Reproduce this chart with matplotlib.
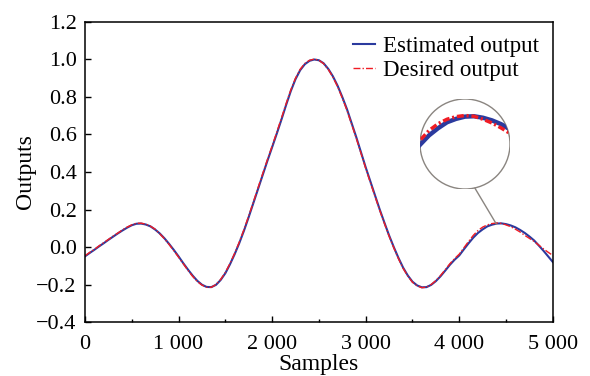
import matplotlib.pyplot as plt
from matplotlib.patches import Circle, ConnectionPatch
from matplotlib.ticker import FuncFormatter, MultipleLocator

plt.rcParams['font.family'] = ['Liberation Serif', 'DejaVu Serif']

samples = list(range(0, 5001, 50))

estimated = [-0.050, -0.032, -0.015, 0.003, 0.020, 0.038, 0.055, 0.072, 0.088, 0.103,
             0.116, 0.124, 0.125, 0.120, 0.110, 0.093, 0.072, 0.046, 0.016, -0.016,
             -0.050, -0.086, -0.120, -0.152, -0.180, -0.201, -0.213, -0.214, -0.202, -0.176,
             -0.140, -0.092, -0.038, 0.022, 0.088, 0.160, 0.235, 0.310, 0.385, 0.460,
             0.532, 0.605, 0.680, 0.758, 0.832, 0.895, 0.943, 0.975, 0.993, 1.000,
             0.996, 0.980, 0.950, 0.910, 0.860, 0.800, 0.735, 0.660, 0.585, 0.505,
             0.425, 0.350, 0.275, 0.200, 0.130, 0.062, 0.000, -0.058, -0.110, -0.152,
             -0.185, -0.205, -0.215, -0.214, -0.202, -0.182, -0.156, -0.126, -0.095, -0.068,
             -0.045, -0.012, 0.020, 0.050, 0.075, 0.094, 0.110, 0.119, 0.125, 0.126,
             0.122, 0.115, 0.105, 0.091, 0.075, 0.056, 0.035, 0.008, -0.020, -0.050,
             -0.080]

desired = [-0.047, -0.029, -0.013, 0.006, 0.023, 0.040, 0.058, 0.074, 0.091, 0.106,
           0.118, 0.127, 0.127, 0.122, 0.111, 0.095, 0.070, 0.044, 0.013, -0.020,
           -0.054, -0.089, -0.124, -0.156, -0.184, -0.203, -0.215, -0.215, -0.200, -0.173,
           -0.136, -0.088, -0.033, 0.027, 0.094, 0.166, 0.240, 0.316, 0.392, 0.466,
           0.538, 0.612, 0.688, 0.765, 0.838, 0.900, 0.948, 0.979, 0.996, 1.002,
           0.996, 0.978, 0.947, 0.906, 0.855, 0.795, 0.729, 0.654, 0.579, 0.500,
           0.420, 0.344, 0.270, 0.196, 0.126, 0.058, -0.004, -0.062, -0.114, -0.155,
           -0.188, -0.207, -0.217, -0.214, -0.200, -0.179, -0.152, -0.121, -0.089, -0.062,
           -0.038, -0.004, 0.030, 0.062, 0.088, 0.106, 0.118, 0.125, 0.128, 0.126,
           0.118, 0.108, 0.095, 0.080, 0.062, 0.046, 0.030, 0.010, -0.010, -0.028,
           -0.045]

fig = plt.figure(figsize=(5.9, 3.76), dpi=100)
fig.subplots_adjust(left=0.144, right=0.937, top=0.9415, bottom=0.1436)
ax = fig.add_subplot(111)

ax.plot(samples, estimated, color='#2b3a9e', lw=1.5, label='Estimated output')
ax.plot(samples, desired, color='#f01c24', lw=1.0, ls=(0, (5, 1.5, 1, 1.5)), label='Desired output')

ax.set_xlim(0, 5000)
ax.set_ylim(-0.4, 1.2)
ax.xaxis.set_major_locator(MultipleLocator(1000))
ax.xaxis.set_minor_locator(MultipleLocator(500))
ax.yaxis.set_major_locator(MultipleLocator(0.2))
ax.xaxis.set_major_formatter(FuncFormatter(lambda v, p: '0' if v == 0 else '{:,.0f}'.format(v).replace(',', ' ')))
ax.yaxis.set_major_formatter(FuncFormatter(lambda v, p: '{:.1f}'.format(v).replace('-', '\u2212')))
ax.tick_params(which='both', direction='in', labelsize=16, top=False, right=False)
ax.tick_params(which='major', length=4, width=1)
ax.tick_params(which='minor', length=2.5, width=1)
ax.tick_params(axis='x', pad=9)
ax.tick_params(axis='y', pad=6)
for s in ax.spines.values():
    s.set_linewidth(1.1)
ax.set_xlabel('Samples', fontsize=17, labelpad=0)
ax.set_ylabel('Outputs', fontsize=17, labelpad=0)

ax.legend(loc='upper right', bbox_to_anchor=(1.0, 1.0), frameon=False, fontsize=16.5,
          handlelength=0.95, handletextpad=0.35, labelspacing=0.12, borderaxespad=0.2)

# zoomed circle
ax_in = fig.add_axes([0.7119, 0.4973, 0.1525, 0.2394])
ax_in.set_xlim(4150, 4650)
ax_in.set_ylim(-0.068, 0.172)
ax_in.axis('off')
circ = Circle((0.5, 0.5), 0.5, transform=ax_in.transAxes, fill=False, ec='#8a8580', lw=1.0)
ax_in.add_patch(circ)
l1, = ax_in.plot(samples, estimated, color='#2b3a9e', lw=3.2)
l2, = ax_in.plot(samples, desired, color='#f01c24', lw=2.5, ls=(0, (2, 0.8, 0.6, 0.8)))
l1.set_clip_path(circ)
l2.set_clip_path(circ)

con = ConnectionPatch(xyA=(0.61, 0.01), coordsA=ax_in.transAxes,
                      xyB=(4398, 0.121), coordsB=ax.transData,
                      color='#8a8580', lw=1.0)
fig.add_artist(con)

fig.savefig('out.png', dpi=100)
